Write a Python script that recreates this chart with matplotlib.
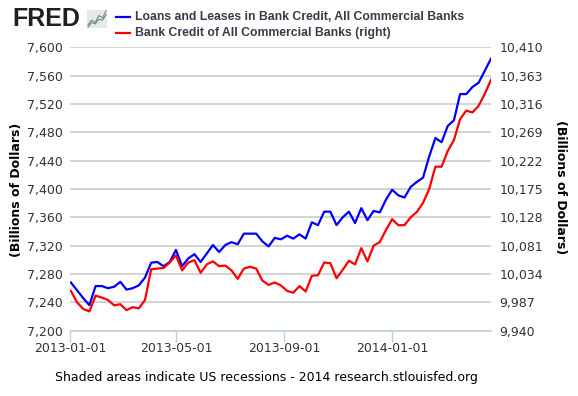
import numpy as np
import pandas as pd
import matplotlib
matplotlib.use("Agg")
import matplotlib.pyplot as plt
import matplotlib.dates as mdates
from matplotlib.lines import Line2D
from matplotlib.ticker import FuncFormatter

# --- data (weekly, billions of dollars) ---
dates = pd.date_range("2013-01-02", periods=69, freq="7D")

loans_leases = [
    7268, 7257, 7246, 7236, 7263, 7263, 7260, 7262, 7269, 7258,
    7260, 7264, 7275, 7296, 7297, 7291, 7297, 7314, 7291, 7302,
    7308, 7297, 7309, 7321, 7311, 7321, 7325, 7322, 7337, 7337,
    7337, 7326, 7319, 7331, 7329, 7334, 7330, 7336, 7330, 7353,
    7349, 7368, 7368, 7349, 7360, 7368, 7352, 7373, 7356, 7369,
    7367, 7385, 7399, 7391, 7388, 7403, 7410, 7416, 7446, 7472,
    7466, 7489, 7497, 7534, 7534, 7544, 7550, 7567, 7584,
]

bank_credit = [
    10006, 9987, 9976, 9972, 9998, 9995, 9991, 9982, 9984, 9974,
    9979, 9977, 9991, 10042, 10043, 10044, 10053, 10065, 10040, 10053,
    10057, 10036, 10050, 10055, 10047, 10048, 10040, 10026, 10043, 10046,
    10043, 10023, 10016, 10020, 10015, 10006, 10003, 10014, 10005, 10031,
    10032, 10053, 10052, 10027, 10041, 10056, 10050, 10077, 10055, 10081,
    10087, 10107, 10125, 10115, 10115, 10128, 10137, 10152, 10175, 10212,
    10212, 10238, 10256, 10291, 10305, 10302, 10313, 10333, 10356,
]

left_ticks = [7200, 7240, 7280, 7320, 7360, 7400, 7440, 7480, 7520, 7560, 7600]
right_ticks = [9940, 9987, 10034, 10081, 10128, 10175, 10222, 10269, 10316, 10363, 10410]
x_ticks = ["2013-01-01", "2013-05-01", "2013-09-01", "2014-01-01"]

label_loans = "Loans and Leases in Bank Credit, All Commercial Banks"
label_credit = "Bank Credit of All Commercial Banks (right)"

# little FRED logo sparkline
logo_a = [1, 2, 1.5, 3, 2.5, 4]
logo_b = [0.5, 1.5, 1.2, 2.2, 2.0, 3.2]

text_col = "#333333"
grid_col = "#c8c8c8"
axis_col = "#c0d0e0"

fig = plt.figure(figsize=(5.78, 3.96), dpi=100)
ax = fig.add_axes([70 / 578, 1 - 330.7 / 396, 421 / 578, 283.4 / 396])
ax2 = ax.twinx()

ax.plot(dates, loans_leases, color="#0000ff", lw=1.6, zorder=3)
ax2.plot(dates, bank_credit, color="#ff0000", lw=1.6, zorder=3)

ax.set_xlim(pd.Timestamp("2013-01-01"), pd.Timestamp("2014-04-23"))
ax.set_ylim(left_ticks[0], left_ticks[-1])
ax2.set_ylim(right_ticks[0], right_ticks[-1])
ax.set_yticks(left_ticks)
ax2.set_yticks(right_ticks)

comma = FuncFormatter(lambda v, p: f"{v:,.0f}")
ax.yaxis.set_major_formatter(comma)
ax2.yaxis.set_major_formatter(comma)

ax.set_xticks([pd.Timestamp(t) for t in x_ticks])
ax.xaxis.set_major_formatter(mdates.DateFormatter("%Y-%m-%d"))

for a in (ax, ax2):
    for s in a.spines.values():
        s.set_visible(False)
    a.tick_params(axis="y", length=0, labelsize=9, labelcolor=text_col)
ax.tick_params(axis="y", pad=5)
ax2.tick_params(axis="y", pad=6)
ax.tick_params(axis="x", length=8, width=1, color=axis_col, labelsize=9,
               labelcolor=text_col, pad=0)

ax.grid(axis="y", color=grid_col, lw=1.1)
ax.set_axisbelow(True)
ax.spines["bottom"].set_visible(True)
ax.spines["bottom"].set_color(axis_col)
ax.spines["bottom"].set_linewidth(1.2)

# axis titles
fig.text(17 / 578, 1 - 190 / 396, "(Billions of Dollars)", rotation=90,
         ha="center", va="center", fontsize=9, fontweight="bold", color="black")
fig.text(560 / 578, 1 - 187 / 396, "(Billions of Dollars)", rotation=270,
         ha="center", va="center", fontsize=9, fontweight="bold", color="black")

# header: FRED logo + legend
fig.text(12 / 578, 1 - 19 / 396, "FRED", ha="left", va="center", fontsize=18,
         fontweight="bold", family="Liberation Sans", color="#231f20")
logo = fig.add_axes([87 / 578, 1 - 28 / 396, 20 / 578, 18 / 396])
logo.set_facecolor("#e8e8e8")
logo.plot(logo_a, color="#6a9a4a", lw=0.8)
logo.plot(logo_b, color="#6a80b0", lw=0.8)
logo.set_xticks([])
logo.set_yticks([])
for s in logo.spines.values():
    s.set_visible(False)

fig.add_artist(Line2D([116 / 578, 130 / 578], [1 - 17 / 396, 1 - 17 / 396],
                      color="#0000ff", lw=1.6))
fig.add_artist(Line2D([116 / 578, 130 / 578], [1 - 33 / 396, 1 - 33 / 396],
                      color="#ff0000", lw=1.6))
fig.text(135 / 578, 1 - 17 / 396, label_loans, ha="left", va="center",
         fontsize=8.8, fontweight="bold", family="Liberation Sans", color="#3a3a4a")
fig.text(135 / 578, 1 - 33 / 396, label_credit, ha="left", va="center",
         fontsize=8.8, fontweight="bold", family="Liberation Sans", color="#3a3a4a")

fig.text(266 / 578, 1 - 377 / 396,
         "Shaded areas indicate US recessions - 2014 research.stlouisfed.org",
         ha="center", va="center", fontsize=9, color="black")

fig.savefig("out.png", dpi=100)
